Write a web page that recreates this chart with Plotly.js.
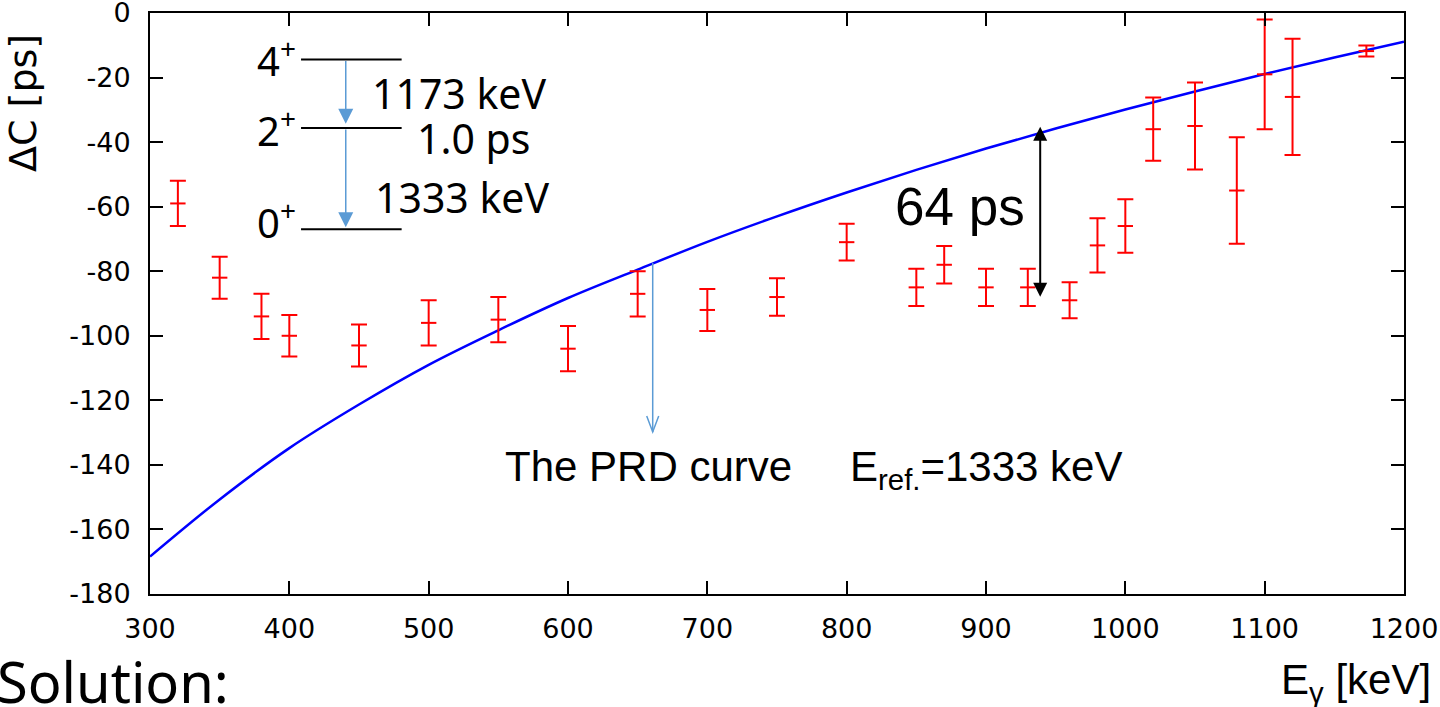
<!DOCTYPE html>
<html>
<head>
<meta charset="utf-8">
<script src="https://cdn.plot.ly/plotly-3.0.1.min.js"></script>
<style>
  html, body { margin: 0; padding: 0; background: #ffffff; }
  #chart { width: 1440px; height: 707px; }
</style>
</head>
<body>
<div id="chart"></div>
<script>
// Measured time-walk offsets ΔC versus gamma energy
const energies = [320, 350, 380, 400, 450, 500, 550, 600, 650, 700, 750, 800, 850, 870, 900, 930, 960, 980, 1000, 1020, 1050, 1080, 1100, 1120, 1173];
const deltaC   = [-59, -82, -94, -100, -103, -96, -95, -104, -87, -92, -88, -71, -85, -78, -85, -85, -89, -72, -66, -36, -35, -55, -19, -26, -11.8];
const deltaErr = [7, 6.5, 7, 6.4, 6.5, 7, 7, 7, 7, 6.5, 5.8, 5.7, 5.8, 5.8, 5.8, 5.8, 5.6, 8.4, 8.3, 9.8, 13.5, 16.5, 17, 18, 1.7];

// Prompt response difference (PRD) curve, reference energy 1333 keV
const prdEnergy = [300, 350, 400, 450, 500, 550, 600, 650, 700, 750, 800, 850, 900, 950, 1000, 1050, 1100, 1150, 1200];
const prdDelta  = [-168.4, -150.7, -134.8, -121.3, -109.0, -98.3, -88.3, -79.5, -70.9, -63.0, -55.6, -48.6, -42.0, -35.8, -29.9, -24.3, -18.9, -13.8, -8.9];

const xTicks = [300, 400, 500, 600, 700, 800, 900, 1000, 1100, 1200];
const xTickText = ['300', '400', '500', '600', '700', '800', '900', '1000', '1100', '1200'];
const yTicks = [0, -20, -40, -60, -80, -100, -120, -140, -160, -180];
const yTickText = ['0', '-20', '-40', '-60', '-80', '-100', '-120', '-140', '-160', '-180'];

const RED = '#ff0000';
const BLUE = '#0000ff';
const SKY = '#5b9bd5';
const INK = '#000000';

const traces = [
  {
    x: prdEnergy, y: prdDelta,
    type: 'scatter', mode: 'lines',
    line: { color: BLUE, width: 2.5, shape: 'spline', smoothing: 1 },
    hoverinfo: 'skip', showlegend: false
  },
  {
    x: energies, y: deltaC,
    type: 'scatter', mode: 'markers',
    marker: { symbol: 'line-ew', size: 11, color: RED, line: { color: RED, width: 2 } },
    error_y: { type: 'data', array: deltaErr, visible: true, color: RED, thickness: 2, width: 8 },
    showlegend: false
  }
];

const axisCommon = {
  showline: true, linecolor: INK, linewidth: 2, mirror: 'ticks',
  ticks: 'inside', ticklen: 13, tickwidth: 2, tickcolor: INK,
  showgrid: false, zeroline: false,
  ticklabeloverflow: 'allow',
  tickfont: { family: 'DejaVu Sans', size: 27, color: INK }
};

const levelFont = { family: 'Noto Sans', size: 40, color: INK };
const labelFont = { family: 'Noto Sans', size: 41, color: INK };
const arialBig = { family: 'Liberation Sans', size: 42, color: INK };

const annotations = [
  // level scheme labels
  { x: 406, y: -14.0, xref: 'x', yref: 'y', text: '4<sup>+</sup>', showarrow: false, xanchor: 'right', yanchor: 'middle', font: levelFont },
  { x: 406, y: -35.7, xref: 'x', yref: 'y', text: '2<sup>+</sup>', showarrow: false, xanchor: 'right', yanchor: 'middle', font: levelFont },
  { x: 406, y: -64.2, xref: 'x', yref: 'y', text: '0<sup>+</sup>', showarrow: false, xanchor: 'right', yanchor: 'middle', font: levelFont },
  { x: 457.6, y: -24.9, xref: 'x', yref: 'y', text: '1173 keV', showarrow: false, xanchor: 'left', yanchor: 'middle', font: labelFont },
  { x: 490.0, y: -38.8, xref: 'x', yref: 'y', text: '1.0 ps', showarrow: false, xanchor: 'left', yanchor: 'middle', font: labelFont },
  { x: 460.0, y: -57.0, xref: 'x', yref: 'y', text: '1333 keV', showarrow: false, xanchor: 'left', yanchor: 'middle', font: labelFont },
  // transitions
  { x: 440.5, y: -34.3, ax: 440.5, ay: -14.4, xref: 'x', yref: 'y', axref: 'x', ayref: 'y', text: '',
    showarrow: true, arrowhead: 2, arrowsize: 2, arrowwidth: 1.5, arrowcolor: SKY, standoff: 0 },
  { x: 440.5, y: -66.4, ax: 440.5, ay: -35.6, xref: 'x', yref: 'y', axref: 'x', ayref: 'y', text: '',
    showarrow: true, arrowhead: 2, arrowsize: 2, arrowwidth: 1.5, arrowcolor: SKY, standoff: 0 },
  // PRD pointer
  { x: 660.8, y: -129.8, ax: 660.8, ay: -77.0, xref: 'x', yref: 'y', axref: 'x', ayref: 'y', text: '',
    showarrow: true, arrowhead: 0, arrowwidth: 1.5, arrowcolor: SKY, standoff: 0 },
  { x: 553.5, y: -140.6, xref: 'x', yref: 'y', text: 'The PRD curve', showarrow: false, xanchor: 'left', yanchor: 'middle', font: arialBig },
  { x: 801.0, y: -141.5, xref: 'x', yref: 'y', text: 'E<sub>ref.</sub>=1333 keV', showarrow: false, xanchor: 'left', yanchor: 'middle', font: arialBig },
  // 64 ps gap marker
  { x: 938.9, y: -87.9, ax: 938.9, ay: -34.8, xref: 'x', yref: 'y', axref: 'x', ayref: 'y', text: '',
    showarrow: true, arrowside: 'end+start', arrowhead: 2, startarrowhead: 2, arrowsize: 1.4, startarrowsize: 1.4,
    arrowwidth: 2, arrowcolor: INK, standoff: 0, startstandoff: 0 },
  { x: 833.5, y: -60.0, xref: 'x', yref: 'y', text: '64 ps', showarrow: false, xanchor: 'left', yanchor: 'middle',
    font: { family: 'Liberation Sans', size: 53, color: INK } },
  // axis titles
  { x: -0.1013, y: 0.845, xref: 'paper', yref: 'paper', text: 'ΔC [ps]', textangle: -90, showarrow: false,
    xanchor: 'center', yanchor: 'middle', font: { family: 'DejaVu Sans', size: 38, color: INK } },
  { x: 1.0231, y: -0.1525, xref: 'paper', yref: 'paper', text: 'E<sub>γ</sub> [keV]', showarrow: false,
    xanchor: 'right', yanchor: 'middle', font: arialBig },
  { x: -0.1236, y: -0.149, xref: 'paper', yref: 'paper', text: 'Solution:', showarrow: false,
    xanchor: 'left', yanchor: 'middle', font: { family: 'Noto Sans', size: 56, color: INK } }
];

const shapes = [
  // energy levels
  { type: 'line', xref: 'x', yref: 'y', x0: 408.4, x1: 480.6, y0: -14.4, y1: -14.4, line: { color: INK, width: 2 } },
  { type: 'line', xref: 'x', yref: 'y', x0: 408.4, x1: 480.6, y0: -35.6, y1: -35.6, line: { color: INK, width: 2 } },
  { type: 'line', xref: 'x', yref: 'y', x0: 408.4, x1: 480.6, y0: -67.0, y1: -67.0, line: { color: INK, width: 2 } },
  // open head of the PRD pointer
  { type: 'path', xref: 'x', yref: 'y', xsizemode: 'pixel', ysizemode: 'pixel', xanchor: 660.8, yanchor: -129.8,
    path: 'M-6,16L0,0L6,16', line: { color: SKY, width: 1.5 } }
];

const layout = {
  width: 1440, height: 707,
  margin: { l: 150, r: 36, t: 13, b: 113 },
  paper_bgcolor: '#ffffff', plot_bgcolor: '#ffffff',
  showlegend: false,
  xaxis: Object.assign({}, axisCommon, { range: [300, 1200], tickvals: xTicks, ticktext: xTickText, ticklabelstandoff: 10 }),
  yaxis: Object.assign({}, axisCommon, { range: [-180, 0], tickvals: yTicks, ticktext: yTickText, ticklabelstandoff: 12 }),
  annotations: annotations,
  shapes: shapes
};

Plotly.newPlot('chart', traces, layout, { displayModeBar: false, staticPlot: true });
</script>
</body>
</html>
